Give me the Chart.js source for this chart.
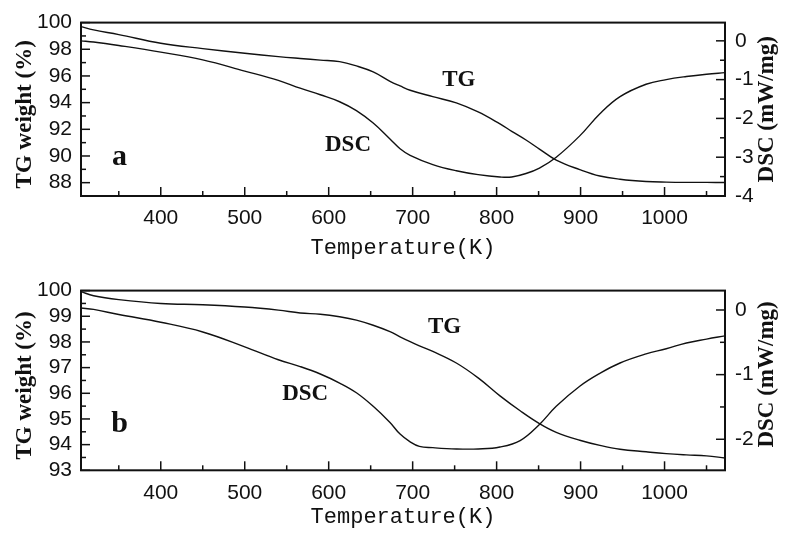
<!DOCTYPE html>
<html><head><meta charset="utf-8">
<script src="https://cdn.jsdelivr.net/npm/chart.js@4/dist/chart.umd.min.js"></script>
<style>
html,body{margin:0;padding:0;background:#fff;}
#wrap{position:relative;width:791px;height:545px;overflow:hidden;}
canvas{position:absolute;left:0;}
</style></head>
<body><div id="wrap">
<canvas id="ca" width="791" height="265" style="top:0px"></canvas>
<canvas id="cb" width="791" height="277" style="top:268px"></canvas>
</div>
<script>
// ---------- data ----------
const tempsA = [305,320,350,400,450,500,540,566,590,613,633,653,673,685,697,724,752,778,804,818,835,851,871,899,923,947,978,1002,1026,1050,1072];
const tgA    = [99.7,99.45,99.1,98.45,98.05,97.7,97.45,97.31,97.19,97.07,96.75,96.3,95.6,95.25,94.93,94.45,93.98,93.3,92.4,91.85,91.2,90.52,89.69,88.98,88.5,88.26,88.09,88.04,88.02,88.02,88.01];
const dscA   = [0.0,-0.03,-0.12,-0.29,-0.49,-0.78,-1.02,-1.22,-1.39,-1.57,-1.80,-2.12,-2.53,-2.78,-2.95,-3.19,-3.35,-3.45,-3.51,-3.51,-3.42,-3.28,-3.0,-2.45,-1.88,-1.44,-1.12,-1.0,-0.92,-0.86,-0.82];

const tempsB = [305,320,350,400,450,500,540,566,590,613,633,653,673,685,697,708,724,752,778,804,828,851,871,899,923,947,978,1002,1026,1050,1072];
const tgB    = [99.96,99.8,99.65,99.5,99.45,99.36,99.24,99.13,99.08,98.98,98.85,98.65,98.4,98.2,98.01,97.85,97.63,97.18,96.6,95.9,95.32,94.82,94.48,94.17,93.97,93.82,93.72,93.65,93.6,93.56,93.48];
const dscB   = [0.03,0.01,-0.07,-0.19,-0.34,-0.57,-0.77,-0.875,-0.99,-1.13,-1.28,-1.49,-1.74,-1.92,-2.04,-2.11,-2.13,-2.15,-2.15,-2.12,-2.02,-1.77,-1.49,-1.18,-0.98,-0.82,-0.68,-0.6,-0.51,-0.45,-0.40];

const xTicks   = [400,500,600,700,800,900,1000];
const xMinor   = [350,450,550,650,750,850,950,1050];
const tgTicksA = [88,90,92,94,96,98,100];
const tgMinorA = [89,91,93,95,97,99];
const dscTicksA= [-4,-3,-2,-1,0];
const dscMinorA= [-3.5,-2.5,-1.5,-0.5];
const tgTicksB = [93,94,95,96,97,98,99,100];
const tgMinorB = [93.5,94.5,95.5,96.5,97.5,98.5,99.5];
const dscTicksB= [-2,-1,0];
const dscMinorB= [-1.5,-0.5];

const xTitle = 'Temperature(K)';
const yTitle = 'TG weight (%)';
const y1Title = 'DSC (mW/mg)';

const INK = '#111';
const tickFont = {family:'"Liberation Sans", Arial, sans-serif', size:21};

const framePlugin = {
  id:'frame',
  afterDraw(chart){
    const o = chart.options.plugins.frame;
    const ctx = chart.ctx, a = chart.chartArea;
    const sx = chart.scales.x, sy = chart.scales.y, sy1 = chart.scales.y1;
    ctx.save();
    ctx.strokeStyle = INK; ctx.lineWidth = 2;
    ctx.strokeRect(a.left, a.top, a.right-a.left, a.bottom-a.top);
    ctx.lineWidth = 1.5;
    const tick = (x1,y1,x2,y2)=>{ctx.beginPath();ctx.moveTo(x1,y1);ctx.lineTo(x2,y2);ctx.stroke();};
    o.xMaj.forEach(v=>{const p=sx.getPixelForValue(v); tick(p,a.bottom,p,a.bottom-9);});
    o.xMin.forEach(v=>{const p=sx.getPixelForValue(v); tick(p,a.bottom,p,a.bottom-5);});
    o.yMaj.forEach(v=>{const p=sy.getPixelForValue(v); tick(a.left,p,a.left+9,p);});
    o.yMin.forEach(v=>{const p=sy.getPixelForValue(v); tick(a.left,p,a.left+5,p);});
    o.y1Maj.forEach(v=>{const p=sy1.getPixelForValue(v); tick(a.right,p,a.right-9,p);});
    o.y1Min.forEach(v=>{const p=sy1.getPixelForValue(v); tick(a.right,p,a.right-5,p);});
    // axis titles
    ctx.fillStyle = INK;
    ctx.textAlign='center'; ctx.textBaseline='middle';
    ctx.font = '22px "Liberation Mono", "Courier New", monospace';
    ctx.fillText(xTitle, (a.left+a.right)/2, a.bottom + o.xTitleOff);
    ctx.font = 'bold 23px "Liberation Serif", "Times New Roman", serif';
    ctx.save(); ctx.translate(25, (a.top+a.bottom)/2 + o.yTitleShift); ctx.rotate(-Math.PI/2);
    ctx.fillText(yTitle,0,0); ctx.restore();
    ctx.save(); ctx.translate(767, (a.top+a.bottom)/2 + o.y1TitleShift); ctx.rotate(-Math.PI/2);
    ctx.fillText(y1Title,0,0); ctx.restore();
    // in-plot labels
    o.labels.forEach(l=>{
      ctx.font = 'bold '+l.size+'px "Liberation Serif", "Times New Roman", serif';
      ctx.fillText(l.text, sx.getPixelForValue(l.x), sy.getPixelForValue(l.y));
    });
    ctx.restore();
  }
};

function makeChart(id, temps, tg, dsc, c){
  const pts = (vals)=>temps.map((t,i)=>({x:t,y:vals[i]}));
  const setTicks = (arr)=>(s)=>{ s.ticks = arr.map(v=>({value:v})); };
  const plain = (v)=>String(v);
  return new Chart(document.getElementById(id), {
    type:'line',
    data:{datasets:[
      {label:'TG', data:pts(tg), yAxisID:'y', borderColor:INK, borderWidth:1.4, pointRadius:0, tension:0.4, fill:false},
      {label:'DSC', data:pts(dsc), yAxisID:'y1', borderColor:INK, borderWidth:1.4, pointRadius:0, tension:0.4, fill:false}
    ]},
    options:{
      responsive:false, animation:false, events:[],
      layout:{padding:{top:c.padTop, left:0, right:0, bottom:0}},
      plugins:{legend:{display:false}, tooltip:{enabled:false},
        frame:{xMaj:xTicks,xMin:xMinor,yMaj:c.yTicks,yMin:c.yMinor,y1Maj:c.y1Ticks,y1Min:c.y1Minor,
               xTitleOff:c.xTitleOff, yTitleShift:c.yTitleShift, y1TitleShift:c.y1TitleShift, labels:c.labels}},
      scales:{
        x:{type:'linear', min:305, max:1072, afterBuildTicks:setTicks(xTicks),
           afterFit:(s)=>{s.height=c.xH;},
           grid:{display:false, drawTicks:false}, border:{display:false},
           ticks:{color:INK, font:tickFont, padding:c.xPad, maxRotation:0, autoSkip:false, callback:plain}},
        y:{type:'linear', position:'left', min:c.yMin, max:100, afterBuildTicks:setTicks(c.yTicks),
           afterFit:(s)=>{s.width=81;},
           grid:{display:false, drawTicks:false}, border:{display:false},
           ticks:{color:INK, font:tickFont, padding:9, autoSkip:false, callback:plain}},
        y1:{type:'linear', position:'right', min:c.y1Min, max:c.y1Max, afterBuildTicks:setTicks(c.y1Ticks),
           afterFit:(s)=>{s.width=66;},
           grid:{display:false, drawTicks:false}, border:{display:false},
           ticks:{color:INK, font:tickFont, padding:10, autoSkip:false, callback:plain}}
      }
    },
    plugins:[framePlugin]
  });
}

makeChart('ca', tempsA, tgA, dscA, {
  padTop:14, xH:69, xPad:10, xTitleOff:52, yMin:87, y1Min:-4, y1Max:0.47,
  yTicks:tgTicksA, yMinor:tgMinorA, y1Ticks:dscTicksA, y1Minor:dscMinorA,
  yTitleShift:5, y1TitleShift:0,
  labels:[{text:'a',x:351,y:89.9,size:30},{text:'DSC',x:623,y:90.8,size:23},{text:'TG',x:755,y:95.7,size:23}]
});
makeChart('cb', tempsB, tgB, dscB, {
  padTop:20.3, xH:74.7, xPad:10, xTitleOff:47, yMin:93, y1Min:-2.48, y1Max:0.3,
  yTicks:tgTicksB, yMinor:tgMinorB, y1Ticks:dscTicksB, y1Minor:dscMinorB,
  yTitleShift:5, y1TitleShift:-6,
  labels:[{text:'b',x:351,y:94.78,size:30},{text:'DSC',x:572,y:95.98,size:23},{text:'TG',x:738,y:98.59,size:23}]
});
</script>
</body></html>
